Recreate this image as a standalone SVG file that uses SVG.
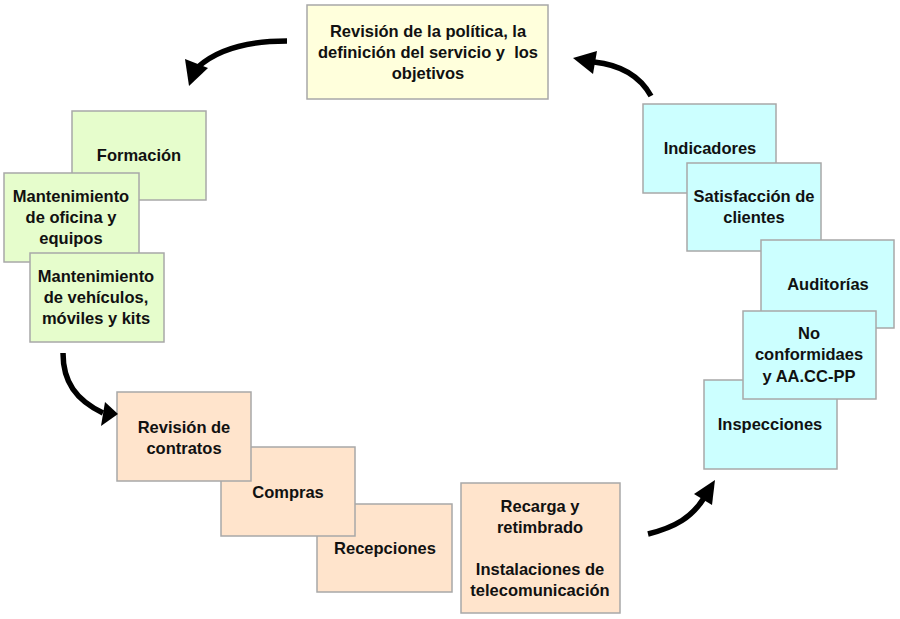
<svg xmlns="http://www.w3.org/2000/svg" width="900" height="619" viewBox="0 0 900 619">
<style>
  .box { stroke: #a8a8a8; stroke-width: 1.5; }
  .y { fill: #ffffdc; }
  .g { fill: #e6fdcc; }
  .c { fill: #ccffff; }
  .o { fill: #ffe4cc; }
  text { font-family: "Liberation Sans", Arial, sans-serif; font-weight: bold; font-size: 16.5px; fill: #111; text-anchor: middle; }
  .arr { fill: none; stroke: #000; stroke-width: 5.5; }
  .head { fill: #000; }
</style>
<rect width="900" height="619" fill="#fff"/>

<g id="politica">
  <rect class="box y" x="307" y="5" width="241" height="94"/>
  <text x="428" y="37">Revisión de la política, la</text>
  <text x="428" y="58">definición del servicio y&#160; los</text>
  <text x="428" y="79">objetivos</text>
</g>

<g id="formacion">
  <rect class="box g" x="72" y="111" width="134" height="89"/>
  <text x="139" y="161">Formación</text>
</g>
<g id="mant-oficina">
  <rect class="box g" x="4" y="173" width="135" height="89"/>
  <text x="71" y="202">Mantenimiento</text>
  <text x="71" y="223">de oficina y</text>
  <text x="71" y="244">equipos</text>
</g>
<g id="mant-vehiculos">
  <rect class="box g" x="30" y="253" width="134" height="89"/>
  <text x="96" y="282">Mantenimiento</text>
  <text x="96" y="303">de vehículos,</text>
  <text x="96" y="324">móviles y kits</text>
</g>

<g id="indicadores">
  <rect class="box c" x="643" y="104" width="133" height="89"/>
  <text x="710" y="154">Indicadores</text>
</g>
<g id="satisfaccion">
  <rect class="box c" x="687" y="163" width="134" height="88"/>
  <text x="754" y="202">Satisfacción de</text>
  <text x="754" y="223">clientes</text>
</g>
<g id="auditorias">
  <rect class="box c" x="761" y="240" width="133" height="88"/>
  <text x="828" y="290">Auditorías</text>
</g>
<g id="inspecciones">
  <rect class="box c" x="704" y="380" width="133" height="89"/>
  <text x="770" y="430">Inspecciones</text>
</g>
<g id="no-conformidades">
  <rect class="box c" x="743" y="311" width="133" height="88"/>
  <text x="809" y="339">No</text>
  <text x="809" y="360">conformidaes</text>
  <text x="809" y="382">y AA.CC-PP</text>
</g>

<g id="recepciones">
  <rect class="box o" x="317" y="504" width="135" height="88"/>
  <text x="385" y="554">Recepciones</text>
</g>
<g id="compras">
  <rect class="box o" x="221" y="447" width="134" height="89"/>
  <text x="288" y="498">Compras</text>
</g>
<g id="revision-contratos">
  <rect class="box o" x="117" y="392" width="134" height="89"/>
  <text x="184" y="433">Revisión de</text>
  <text x="184" y="454">contratos</text>
</g>
<g id="recarga">
  <rect class="box o" x="461" y="483" width="159" height="130"/>
  <text x="540" y="512">Recarga y</text>
  <text x="540" y="533">retimbrado</text>
  <text x="540" y="575">Instalaciones de</text>
  <text x="540" y="596">telecomunicación</text>
</g>

<g id="connectors">
  <path class="arr" d="M287,41 C248,41 218,49 198,67"/>
  <polygon class="head" points="185,59 208,68 189,86"/>
  <path class="arr" d="M651,96 C640,76 622,65 594,62"/>
  <polygon class="head" points="597,51 593,74 573,58"/>
  <path class="arr" d="M63,353 C63,382 76,400 103,413"/>
  <polygon class="head" points="105,402 101,426 118,414"/>
  <path class="arr" d="M648,534 C676,527 692,517 704,498"/>
  <polygon class="head" points="694,494 712,505 715,480"/>
</g>
</svg>
